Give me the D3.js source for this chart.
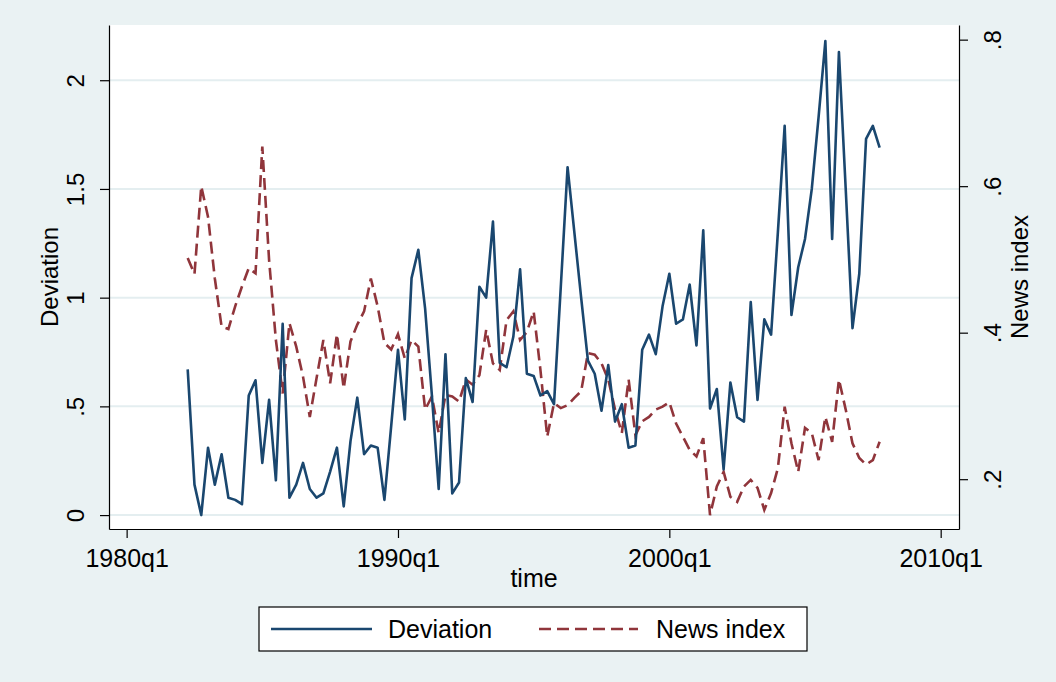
<!DOCTYPE html>
<meta charset='utf-8'>
<style>
  body { margin: 0; background: #eaf2f3; }
  svg { display: block; font-family: 'Liberation Sans', Arial, Helvetica, sans-serif; }
  .axis text { fill: #000; }
  .axis line, .axis path { stroke: #000; stroke-width: 1.2px; }
  .grid line { stroke: #e4eef0; stroke-width: 2px; }
</style>
<head>
  <title>Deviation and News index</title>
</head>
<body>
<div id='viz'></div>
<script src='https://d3js.org/d3.v7.min.js'></script>
<script>

// Quarterly series, first observation 1982q2
var startYear = 1982, startQuarter = 2;

var deviation = [0.67, 0.14, 0.00, 0.31, 0.14, 0.28, 0.08, 0.07, 0.05, 0.55,
                 0.62, 0.24, 0.53, 0.16, 0.88, 0.08, 0.14, 0.24, 0.12, 0.08,
                 0.10, 0.20, 0.31, 0.04, 0.34, 0.54, 0.28, 0.32, 0.31, 0.07,
                 0.41, 0.76, 0.44, 1.09, 1.22, 0.95, 0.55, 0.12, 0.74, 0.10,
                 0.15, 0.63, 0.52, 1.05, 1.00, 1.35, 0.70, 0.68, 0.82, 1.13,
                 0.65, 0.64, 0.55, 0.57, 0.51, 1.05, 1.60, 1.30, 1.00, 0.71,
                 0.65, 0.48, 0.69, 0.43, 0.51, 0.31, 0.32, 0.76, 0.83, 0.74,
                 0.96, 1.11, 0.88, 0.90, 1.06, 0.78, 1.31, 0.49, 0.58, 0.21,
                 0.61, 0.45, 0.43, 0.98, 0.53, 0.90, 0.83, 1.30, 1.79, 0.92,
                 1.14, 1.27, 1.50, 1.83, 2.18, 1.27, 2.13, 1.50, 0.86, 1.11,
                 1.73, 1.79, 1.69];

var newsIndex = [0.502, 0.480, 0.600, 0.558, 0.474, 0.408, 0.405, 0.436, 0.463, 0.488,
                 0.481, 0.654, 0.499, 0.390, 0.317, 0.413, 0.381, 0.340, 0.285, 0.338,
                 0.390, 0.331, 0.398, 0.324, 0.388, 0.411, 0.429, 0.474, 0.436, 0.386,
                 0.377, 0.398, 0.365, 0.390, 0.381, 0.295, 0.313, 0.263, 0.315, 0.313,
                 0.306, 0.336, 0.329, 0.342, 0.404, 0.358, 0.349, 0.417, 0.429, 0.390,
                 0.401, 0.429, 0.349, 0.258, 0.304, 0.297, 0.301, 0.311, 0.320, 0.372,
                 0.370, 0.358, 0.336, 0.295, 0.263, 0.336, 0.260, 0.279, 0.285, 0.295,
                 0.299, 0.305, 0.276, 0.258, 0.240, 0.231, 0.256, 0.151, 0.190, 0.210,
                 0.176, 0.169, 0.190, 0.199, 0.188, 0.158, 0.181, 0.215, 0.299, 0.249,
                 0.210, 0.270, 0.263, 0.226, 0.285, 0.251, 0.336, 0.295, 0.249, 0.229,
                 0.220, 0.226, 0.251];

var xTickYears = [1980, 1990, 2000, 2010];
var xTickLabels = ['1980q1', '1990q1', '2000q1', '2010q1'];
var leftTickValues = [0, 0.5, 1, 1.5, 2];
var leftTickLabels = ['0', '.5', '1', '1.5', '2'];
var rightTickValues = [0.2, 0.4, 0.6, 0.8];
var rightTickLabels = ['.2', '.4', '.6', '.8'];
var seriesNames = ['Deviation', 'News index'];

// Stata-style quarterly date number (1960q1 = 0)
function tq(y, q) { return (y - 1960) * 4 + q - 1; }
var t0 = tq(startYear, startQuarter);
var devData = deviation.map(function(v, i) { return {t: t0 + i, v: v}; });
var newsData = newsIndex.map(function(v, i) { return {t: t0 + i, v: v}; });

var W = 1056, H = 682;
var plot = {left: 109, right: 959, top: 25, bottom: 529};

var x = d3.scaleLinear().domain([77.4, 202.7]).range([plot.left, plot.right]);
var yL = d3.scaleLinear().domain([-0.064, 2.254]).range([plot.bottom, plot.top]);
var yR = d3.scaleLinear().domain([0.132, 0.820]).range([plot.bottom, plot.top]);

var svg = d3.select('#viz').append('svg')
    .attr('width', W)
    .attr('height', H);

svg.append('rect').attr('width', W).attr('height', H).attr('fill', '#eaf2f3');

// plot region
svg.append('rect')
    .attr('x', plot.left).attr('y', plot.top)
    .attr('width', plot.right - plot.left).attr('height', plot.bottom - plot.top)
    .attr('fill', '#fff');

// horizontal grid at left-axis ticks
svg.append('g').attr('class', 'grid')
  .selectAll('line').data(leftTickValues).enter().append('line')
    .attr('x1', plot.left).attr('x2', plot.right)
    .attr('y1', function(d) { return yL(d); })
    .attr('y2', function(d) { return yL(d); });

// lines
var devLine = d3.line().x(function(d) { return x(d.t); }).y(function(d) { return yL(d.v); });
var newsLine = d3.line().x(function(d) { return x(d.t); }).y(function(d) { return yR(d.v); });

svg.append('path').datum(newsData)
    .attr('d', newsLine)
    .attr('fill', 'none')
    .attr('stroke', '#90353b')
    .attr('stroke-width', 2.6)
    .attr('stroke-dasharray', '12,6');

svg.append('path').datum(devData)
    .attr('d', devLine)
    .attr('fill', 'none')
    .attr('stroke', '#1a476f')
    .attr('stroke-width', 2.6)
    .attr('stroke-linejoin', 'round');

// axes
var xAxis = svg.append('g').attr('class', 'axis')
    .attr('transform', 'translate(0,' + plot.bottom + ')')
    .call(d3.axisBottom(x)
      .tickValues(xTickYears.map(function(y) { return tq(y, 1); }))
      .tickFormat(function(d, i) { return xTickLabels[i]; })
      .tickSize(9).tickSizeOuter(0));
xAxis.selectAll('text')
    .attr('y', 38).attr('dy', null)
    .style('font-size', '25px');

var leftAxis = svg.append('g').attr('class', 'axis')
    .attr('transform', 'translate(' + plot.left + ',0)')
    .call(d3.axisLeft(yL)
      .tickValues(leftTickValues)
      .tickFormat(function(d, i) { return leftTickLabels[i]; })
      .tickSize(9).tickSizeOuter(0));
leftAxis.selectAll('text')
    .attr('x', null).attr('dy', null)
    .attr('text-anchor', 'middle')
    .attr('transform', 'translate(-25,0) rotate(-90)')
    .style('font-size', '24px');

var rightAxis = svg.append('g').attr('class', 'axis')
    .attr('transform', 'translate(' + plot.right + ',0)')
    .call(d3.axisRight(yR)
      .tickValues(rightTickValues)
      .tickFormat(function(d, i) { return rightTickLabels[i]; })
      .tickSize(9).tickSizeOuter(0));
rightAxis.selectAll('text')
    .attr('x', null).attr('dy', null)
    .attr('text-anchor', 'middle')
    .attr('transform', 'translate(42,0) rotate(-90)')
    .style('font-size', '24px');

// axis titles
var midY = (plot.top + plot.bottom) / 2;
svg.append('text')
    .attr('transform', 'translate(58,' + midY + ') rotate(-90)')
    .attr('text-anchor', 'middle')
    .style('font-size', '24px')
    .text('Deviation');

svg.append('text')
    .attr('transform', 'translate(1028,' + midY + ') rotate(-90)')
    .attr('text-anchor', 'middle')
    .style('font-size', '24px')
    .text('News index');

svg.append('text')
    .attr('x', (plot.left + plot.right) / 2)
    .attr('y', 587)
    .attr('text-anchor', 'middle')
    .style('font-size', '25px')
    .text('time');

// legend
var legend = svg.append('g');
legend.append('rect')
    .attr('x', 259).attr('y', 607)
    .attr('width', 548).attr('height', 44)
    .attr('fill', '#fff')
    .attr('stroke', '#000')
    .attr('stroke-width', 1.2);

var legendItems = [
  {name: seriesNames[0], color: '#1a476f', dash: null, x0: 271, x1: 372, tx: 388},
  {name: seriesNames[1], color: '#90353b', dash: '12,6', x0: 539, x1: 638, tx: 656}
];
var li = legend.selectAll('.item').data(legendItems).enter().append('g').attr('class', 'item');
li.append('line')
    .attr('x1', function(d) { return d.x0; })
    .attr('x2', function(d) { return d.x1; })
    .attr('y1', 629).attr('y2', 629)
    .attr('stroke', function(d) { return d.color; })
    .attr('stroke-width', 2.6)
    .attr('stroke-dasharray', function(d) { return d.dash; });
li.append('text')
    .attr('x', function(d) { return d.tx; })
    .attr('y', 638)
    .style('font-size', '25px')
    .text(function(d) { return d.name; });

</script>
</body>
